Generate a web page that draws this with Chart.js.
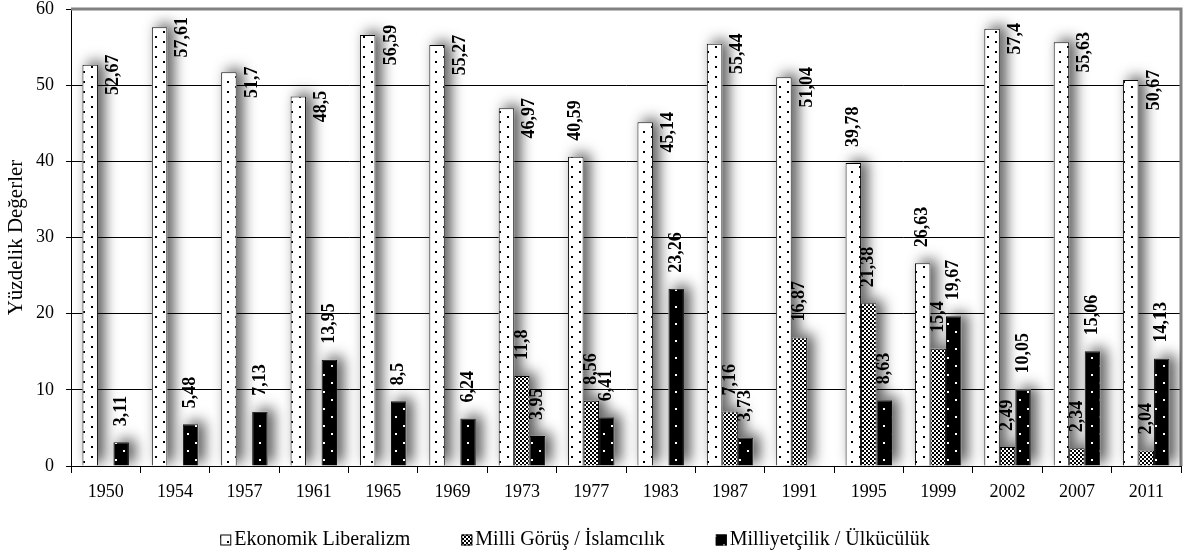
<!DOCTYPE html>
<html>
<head>
<meta charset="utf-8">
<script src="https://cdn.jsdelivr.net/npm/chart.js@4.4.1/dist/chart.umd.min.js"></script>
<style>
    html, body { margin: 0; padding: 0; background: #fff; }
    #wrap { width: 1184px; height: 555px; }
</style>
</head>
<body>
<div id="wrap"><canvas id="barChart" width="1184" height="555"></canvas></div>
<script>
const years = ['1950', '1954', '1957', '1961', '1965', '1969', '1973', '1977', '1983', '1987', '1991', '1995', '1999', '2002', '2007', '2011'];
const ekonomik = [52.67, 57.61, 51.7, 48.5, 56.59, 55.27, 46.97, 40.59, 45.14, 55.44, 51.04, 39.78, 26.63, 57.4, 55.63, 50.67];
const milliGorus = [null, null, null, null, null, null, 11.8, 8.56, null, 7.16, 16.87, 21.38, 15.4, 2.49, 2.34, 2.04];
const milliyetci = [3.11, 5.48, 7.13, 13.95, 8.5, 6.24, 3.95, 6.41, 23.26, 3.73, null, 8.63, 19.67, 10.05, 15.06, 14.13];
const seriesNames = ['Ekonomik Liberalizm', 'Milli Görüş / İslamcılık', 'Milliyetçilik / Ülkücülük'];

const serif = '"Liberation Serif", "Times New Roman", serif';
Chart.defaults.font.family = serif;
Chart.defaults.color = '#000';

// fill patterns like the old office ones
function makePattern(w, h, bg, fg, dots) {
    let tile = document.createElement('canvas');
    tile.width = w;
    tile.height = h;
    let t = tile.getContext('2d');
    t.fillStyle = bg;
    t.fillRect(0, 0, w, h);
    t.fillStyle = fg;
    dots.forEach(d => t.fillRect(d[0], d[1], d[2], d[3]));
    return document.createElement('canvas').getContext('2d').createPattern(tile, 'repeat');
}

const dotPattern = makePattern(16, 10, '#fff', '#000', [[3, 1, 2, 2], [11, 6, 2, 2]]);
const checkPattern = makePattern(4, 4, '#fff', '#000', [[0, 0, 2, 2], [2, 2, 2, 2], [1, 1, 1, 1]]);
const blackPattern = makePattern(16, 17, '#000', '#fff', [[3, 0, 2, 2], [11, 8, 2, 2]]);
const patterns = [dotPattern, checkPattern, blackPattern];

function fmt(v) {
    return String(v).replace('.', ',');
}

const barFx = {
    id: 'barFx',
    beforeDatasetsDraw(chart) {
        const {ctx, chartArea: a} = chart;
        ctx.save();
        ctx.strokeStyle = '#808080';
        ctx.lineWidth = 3;
        ctx.beginPath();
        ctx.moveTo(a.left, a.top);
        ctx.lineTo(a.right, a.top);
        ctx.lineTo(a.right, a.bottom);
        ctx.stroke();
        ctx.restore();

        // soft shadows under every bar
        ctx.save();
        ctx.beginPath();
        ctx.rect(a.left, a.top, a.right - a.left, a.bottom - a.top);
        ctx.clip();
        ctx.shadowColor = 'rgba(0,0,0,0.7)';
        ctx.shadowBlur = 14;
        ctx.shadowOffsetX = 6;
        ctx.shadowOffsetY = -3;
        ctx.fillStyle = '#fff';
        chart.data.datasets.forEach((ds, i) => {
            chart.getDatasetMeta(i).data.forEach((bar, j) => {
                if (ds.data[j] == null) return;
                const p = bar.getProps(['x', 'y', 'base', 'width'], true);
                ctx.fillRect(p.x - p.width / 2, p.y, p.width, p.base - p.y);
            });
        });
        ctx.restore();
    },
    afterDatasetsDraw(chart, args, opts) {
        const {ctx, chartArea: a} = chart;
        ctx.save();
        ctx.font = 'bold 18px ' + serif;
        ctx.fillStyle = '#000';
        ctx.textBaseline = 'middle';
        chart.data.datasets.forEach((ds, i) => {
            chart.getDatasetMeta(i).data.forEach((bar, j) => {
                const v = ds.data[j];
                if (v == null) return;
                const p = bar.getProps(['x', 'y', 'width'], true);
                const txt = fmt(v);
                const w = ctx.measureText(txt).width;
                ctx.save();
                if (i === 0 && v > opts.sideAbove) {
                    let cy = p.y + 10;
                    if (cy - w / 2 < a.top + 4) cy = a.top + 4 + w / 2;
                    ctx.translate(p.x + p.width * 1.5, cy);
                    ctx.rotate(-Math.PI / 2);
                    ctx.textAlign = 'center';
                } else {
                    ctx.translate(p.x, p.y - 16);
                    ctx.rotate(-Math.PI / 2);
                    ctx.textAlign = 'left';
                }
                ctx.fillText(txt, 0, 0);
                ctx.restore();
            });
        });
        ctx.restore();
    },
    afterDraw(chart, args, opts) {
        // legend
        const ctx = chart.ctx;
        ctx.save();
        ctx.font = '20px ' + serif;
        ctx.textBaseline = 'middle';
        ctx.textAlign = 'left';
        const box = 11, gap = 3, spacing = 51;
        const widths = chart.data.datasets.map(ds => box + gap + ctx.measureText(ds.label).width);
        const total = widths.reduce((s, w) => s + w, 0) + spacing * (widths.length - 1);
        let x = opts.legendCenter - total / 2;
        const y = opts.legendY;
        chart.data.datasets.forEach((ds, i) => {
            ctx.fillStyle = ds.backgroundColor;
            ctx.fillRect(x, y - box / 2, box, box);
            ctx.strokeStyle = '#000';
            ctx.lineWidth = 1;
            ctx.strokeRect(x + 0.5, y - box / 2 + 0.5, box - 1, box - 1);
            ctx.fillStyle = '#000';
            ctx.fillText(ds.label, x + box + gap, y);
            x += widths[i] + spacing;
        });
        ctx.restore();
    }
};

const ctx = document.getElementById('barChart').getContext('2d');
const barChart = new Chart(ctx, {
    type: 'bar',
    data: {
        labels: years,
        datasets: [
            {label: seriesNames[0], data: ekonomik, backgroundColor: patterns[0]},
            {label: seriesNames[1], data: milliGorus, backgroundColor: patterns[1]},
            {label: seriesNames[2], data: milliyetci, backgroundColor: patterns[2]}
        ].map(ds => Object.assign(ds, {
            borderColor: '#000',
            borderWidth: 1,
            categoryPercentage: 0.67,
            barPercentage: 1
        }))
    },
    options: {
        responsive: false,
        animation: false,
        layout: {padding: {left: 0, right: 3, top: 0, bottom: 0}},
        plugins: {
            legend: {display: false},
            tooltip: {enabled: false},
            barFx: {sideAbove: 45, legendCenter: 575, legendY: 540}
        },
        scales: {
            x: {
                afterFit: s => { s.height = 89; },
                grid: {
                    offset: true,
                    drawOnChartArea: false,
                    drawTicks: true,
                    tickLength: 7,
                    color: '#000'
                },
                border: {color: '#000', width: 1},
                ticks: {font: {size: 18}, padding: 8, maxRotation: 0}
            },
            y: {
                min: 0,
                max: 60,
                afterFit: s => {
                    s.width = 71;
                    s.paddingTop = 9;
                    s.paddingBottom = 0;
                },
                ticks: {stepSize: 10, font: {size: 18}, padding: 12},
                grid: {
                    color: c => (c.tick && c.tick.value === 60) ? 'rgba(0,0,0,0)' : '#000',
                    tickColor: '#000',
                    tickLength: 5,
                    lineWidth: 1
                },
                border: {color: '#000', width: 1},
                title: {
                    display: true,
                    text: 'Yüzdelik Değerler',
                    font: {size: 21}
                }
            }
        }
    },
    plugins: [barFx]
});
</script>
</body>
</html>
